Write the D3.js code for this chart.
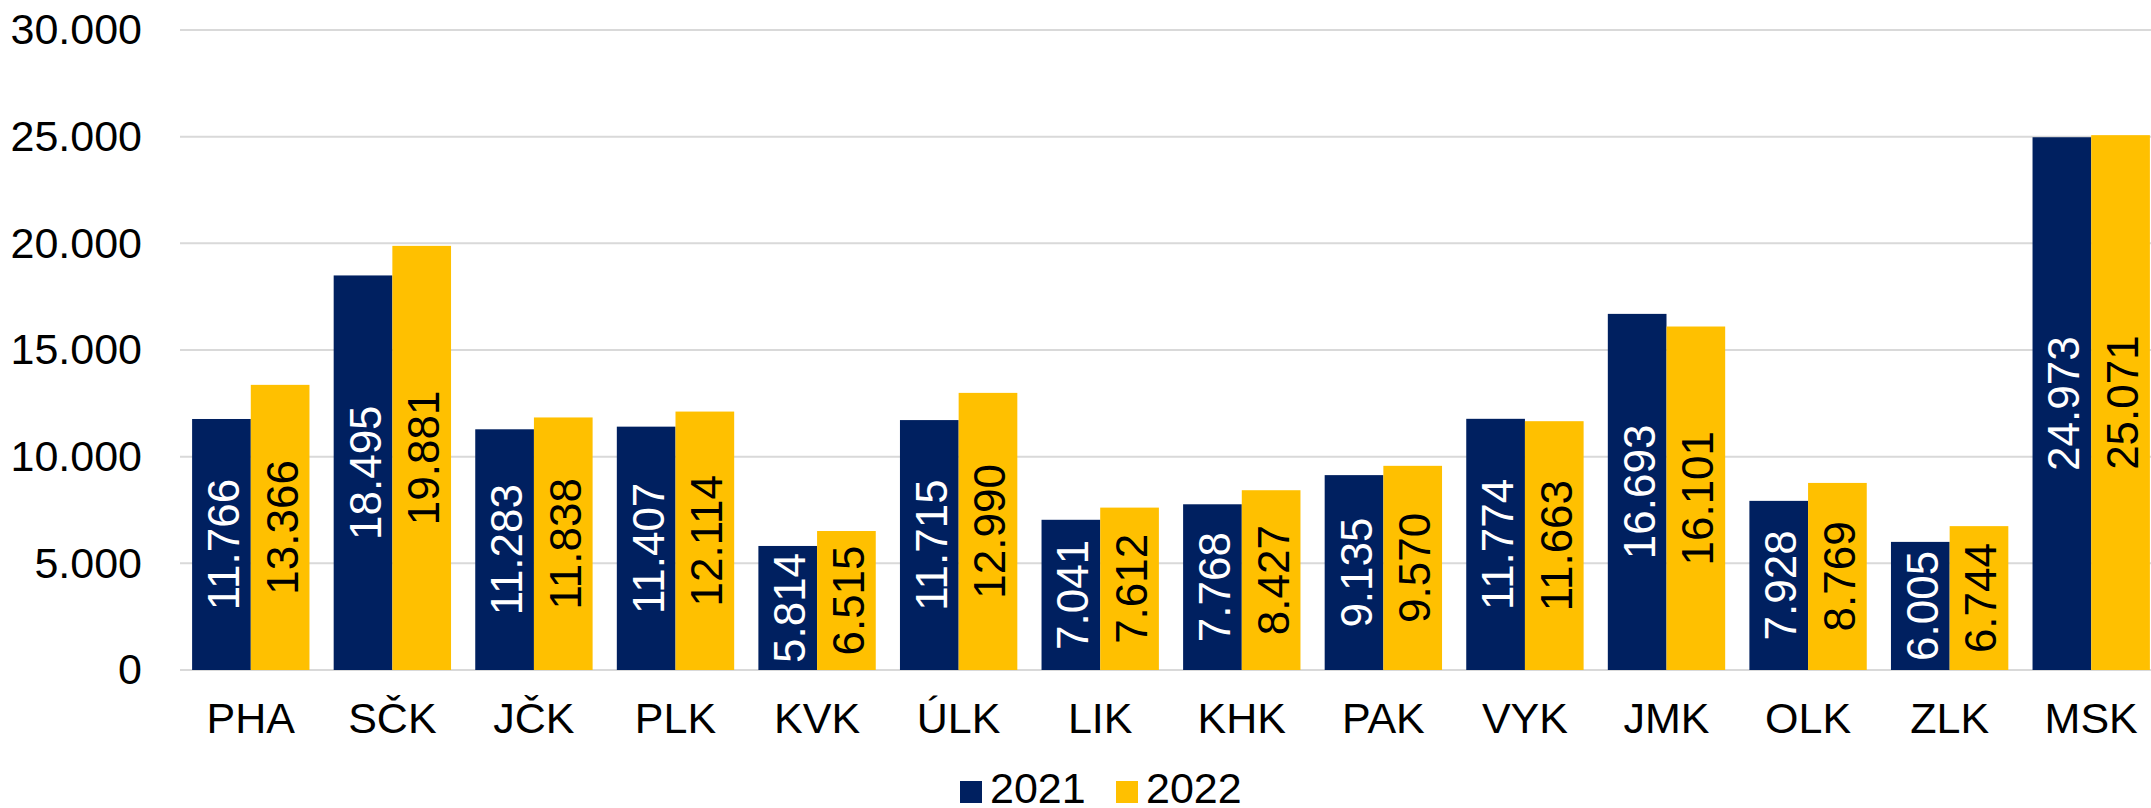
<!DOCTYPE html>
<html>
<head>
<meta charset="utf-8">
<style>
  body { margin: 0; background: #fff; }
  svg { display: block; font-family: "Liberation Sans", Arial, sans-serif; }
</style>
</head>
<body>
<div id="chart"></div>
<script src="https://d3js.org/d3.v7.min.js"></script>
<script>
// data
const regions = ['PHA', 'SČK', 'JČK', 'PLK', 'KVK', 'ÚLK', 'LIK', 'KHK', 'PAK', 'VYK', 'JMK', 'OLK', 'ZLK', 'MSK']
const years = ['2021', '2022']
const values2021 = [11766, 18495, 11283, 11407, 5814, 11715, 7041, 7768, 9135, 11774, 16693, 7928, 6005, 24973]
const values2022 = [13366, 19881, 11838, 12114, 6515, 12990, 7612, 8427, 9570, 11663, 16101, 8769, 6744, 25071]
const yTicks = [0, 5000, 10000, 15000, 20000, 25000, 30000]

const W = 2151, H = 808
const colors = { '2021': '#002060', '2022': '#FFC000' }
const labelColors = { '2021': '#ffffff', '2022': '#000000' }

// Czech number format (dot as thousands separator)
const cz = d3.formatLocale({ decimal: ',', thousands: '.', grouping: [3], currency: ['', ' Kč'] })
const fmt = cz.format(',d')

const svg = d3.select('#chart').append('svg')
  .attr('width', W).attr('height', H)

// band scale runs a bit past the right edge, like the source picture
const x0 = d3.scaleBand().domain(regions).range([180, 2162]).paddingInner(0.171).paddingOuter(0.0855)
const x1 = d3.scaleBand().domain(years).range([0, x0.bandwidth()])
const y = d3.scaleLinear().domain([0, 30000]).range([670, 30])

// gridlines
svg.append('g')
  .selectAll('line')
  .data(yTicks)
  .join('line')
  .attr('x1', 180).attr('x2', W)
  .attr('y1', d => y(d)).attr('y2', d => y(d))
  .attr('stroke', '#d9d9d9').attr('stroke-width', 2)

// y axis labels
const yAxis = svg.append('g')
  .attr('transform', 'translate(142,0)')
  .call(d3.axisLeft(y).tickValues(yTicks).tickFormat(fmt).tickSize(0).tickPadding(0))
yAxis.select('.domain').remove()
yAxis.selectAll('text')
  .attr('font-size', 43).attr('fill', '#000').attr('font-family', '"Liberation Sans", Arial, sans-serif')

// x axis labels
const xAxis = svg.append('g')
  .attr('transform', 'translate(0,670)')
  .call(d3.axisBottom(x0).tickSize(0).tickPadding(32))
xAxis.select('.domain').remove()
xAxis.selectAll('text')
  .attr('font-size', 43).attr('fill', '#000').attr('font-family', '"Liberation Sans", Arial, sans-serif')

// bars
const rows = regions.map((r, i) => ({ region: r, vals: [
  { year: '2021', value: values2021[i] },
  { year: '2022', value: values2022[i] }
] }))

const groups = svg.append('g')
  .selectAll('g')
  .data(rows)
  .join('g')
  .attr('transform', d => `translate(${x0(d.region)},0)`)

groups.selectAll('rect')
  .data(d => d.vals)
  .join('rect')
  .attr('x', d => x1(d.year))
  .attr('y', d => y(d.value))
  .attr('width', x1.bandwidth())
  .attr('height', d => y(0) - y(d.value))
  .attr('fill', d => colors[d.year])

// value labels, rotated, centered in the bar
groups.selectAll('text')
  .data(d => d.vals)
  .join('text')
  .attr('transform', d => `translate(${x1(d.year) + x1.bandwidth() / 2 + 2},${(y(d.value) + y(0)) / 2}) rotate(-90)`)
  .attr('text-anchor', 'middle')
  .attr('dominant-baseline', 'central')
  .attr('font-size', 44)
  .attr('fill', d => labelColors[d.year])
  .text(d => fmt(d.value))

// legend
const legend = svg.append('g')
const legendItems = [
  { year: '2021', x: 960 },
  { year: '2022', x: 1116 }
]
legend.selectAll('rect')
  .data(legendItems)
  .join('rect')
  .attr('x', d => d.x).attr('y', 781)
  .attr('width', 22).attr('height', 22)
  .attr('fill', d => colors[d.year])
legend.selectAll('text')
  .data(legendItems)
  .join('text')
  .attr('x', d => d.x + 30).attr('y', 803)
  .attr('font-size', 43)
  .text(d => d.year)
</script>
</body>
</html>
